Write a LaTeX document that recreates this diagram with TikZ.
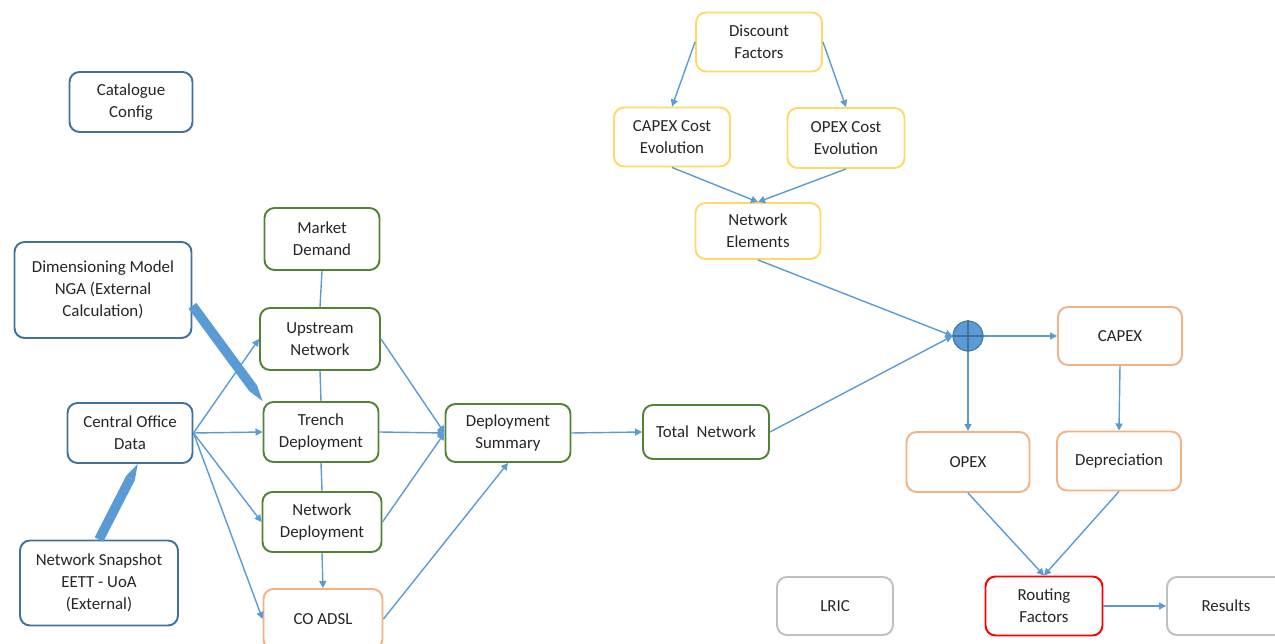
\documentclass[tikz,border=0pt]{standalone}
\usepackage{fontspec}
\setmainfont{Carlito}
\usetikzlibrary{arrows.meta}
\definecolor{lineblue}{HTML}{5B9BD5}
\definecolor{darkblue}{HTML}{41719C}
\definecolor{leafgreen}{HTML}{548235}
\definecolor{peach}{HTML}{F4B183}
\definecolor{sand}{HTML}{FFD966}
\definecolor{lightgrey}{HTML}{BFBFBF}
\begin{document}
\begin{tikzpicture}[x=0.02cm,y=-0.02cm,
  box/.style={draw,rounded corners=0.2cm,line width=1.1pt,fill=white,align=center,
    text=black!85,font=\fontsize{9.6}{12.5}\selectfont,minimum width=2.4cm,minimum height=1.2cm},
  bluebox/.style={box,draw=darkblue},
  greenbox/.style={box,draw=leafgreen},
  orangebox/.style={box,draw=peach},
  yellowbox/.style={box,draw=sand},
  greybox/.style={box,draw=lightgrey},
  redbox/.style={box,draw=red},
  flow/.style={draw=lineblue,line width=0.8pt,-{Triangle[length=4pt,width=4pt]}},
  link/.style={draw=lineblue,line width=0.8pt},
  fat/.style={draw=lineblue,line width=5.5pt,-{Triangle[length=9pt,width=5.5pt,line width=0pt]}}]
\useasboundingbox (0,0) rectangle (1275,644);
\node [bluebox,minimum width=2.46cm] (cat) at (131,102) {Catalogue\\Config};
\node [bluebox,minimum width=3.54cm,minimum height=1.92cm] (dim) at (103,290) {Dimensioning Model\\NGA (External\\Calculation)};
\node [bluebox,minimum width=2.5cm] (co) at (130,433) {Central Office\\Data};
\node [bluebox,minimum width=3.16cm,minimum height=1.7cm] (snap) at (99,583) {Network Snapshot\\EETT - UoA\\(External)};
\node [greenbox,minimum width=2.3cm,minimum height=1.24cm] (mkt) at (322,239) {Market\\Demand};
\node [greenbox,minimum height=1.24cm] (up) at (320,339) {Upstream\\Network};
\node [greenbox,minimum width=2.3cm] (trench) at (321,432) {Trench\\Deployment};
\node [greenbox,minimum width=2.38cm] (netdep) at (322,522) {Network\\Deployment};
\node [orangebox,minimum width=2.38cm] (adsl) at (323,619) {CO ADSL};
\node [greenbox,minimum width=2.5cm,minimum height=1.16cm] (summ) at (508,433) {Deployment\\Summary};
\node [greenbox,minimum width=2.52cm,minimum height=1.08cm] (tot) at (706,432) {Total~ Network};
\node [yellowbox,minimum width=2.52cm,minimum height=1.18cm] (disc) at (759,42) {Discount\\Factors};
\node [yellowbox,minimum width=2.32cm,minimum height=1.18cm] (capev) at (672,137) {CAPEX Cost\\Evolution};
\node [yellowbox,minimum width=2.34cm] (opev) at (846,138) {OPEX Cost\\Evolution};
\node [yellowbox,minimum width=2.5cm,minimum height=1.12cm] (ne) at (758,231) {Network\\Elements};
\node [circle,draw=darkblue,fill=lineblue,line width=0.6pt,minimum size=0.6cm,inner sep=0pt] (sum) at (968,336) {};
\draw [darkblue,line width=0.6pt] (sum.north) -- (sum.south) (sum.west) -- (sum.east);
\node [orangebox,minimum width=2.48cm,minimum height=1.16cm] (capex) at (1120,336) {CAPEX};
\node [orangebox,minimum width=2.46cm] (opex) at (968,462) {OPEX};
\node [orangebox,minimum width=2.48cm,minimum height=1.18cm] (depr) at (1119,461) {Depreciation};
\node [greybox,minimum width=2.32cm,minimum height=1.16cm] (lric) at (835,606) {LRIC};
\node [redbox,minimum width=2.34cm,minimum height=1.18cm] (rout) at (1044,606) {Routing\\Factors};
\node [greybox,minimum width=2.36cm,minimum height=1.16cm] (res) at (1226,606) {Results};
\draw [fat] (dim.-10) -- (trench.north west);
\draw [fat] (snap.north) -- (co.-76);
\draw [flow] (co.east) -- (up.west);
\draw [flow] (co.east) -- (trench.west);
\draw [flow] (co.east) -- (netdep.west);
\draw [flow] (co.east) -- (adsl.west);
\draw [link] (mkt.south) -- (up.north);
\draw [link] (up.south) -- (trench.north);
\draw [link] (trench.south) -- (netdep.north);
\draw [flow] (netdep.south) -- (adsl.north);
\draw [flow] (up.east) -- (summ.west);
\draw [flow] (trench.east) -- (summ.west);
\draw [flow] (netdep.east) -- (summ.west);
\draw [flow] (adsl.east) -- (summ.south);
\draw [flow] (summ.east) -- (tot.west);
\draw [flow] (tot.east) -- (sum.west);
\draw [flow] (ne.south) -- (sum.west);
\draw [flow] (disc.west) -- (capev.north);
\draw [flow] (disc.east) -- (opev.north);
\draw [flow] (capev.south) -- (ne.north);
\draw [flow] (opev.south) -- (ne.north);
\draw [flow] (sum.east) -- (capex.west);
\draw [flow] (sum.south) -- (opex.north);
\draw [flow] (capex.south) -- (depr.north);
\draw [flow] (opex.south) -- (rout.north);
\draw [flow] (depr.south) -- (rout.north);
\draw [flow] (rout.east) -- (res.west);
\end{tikzpicture}
\end{document}
